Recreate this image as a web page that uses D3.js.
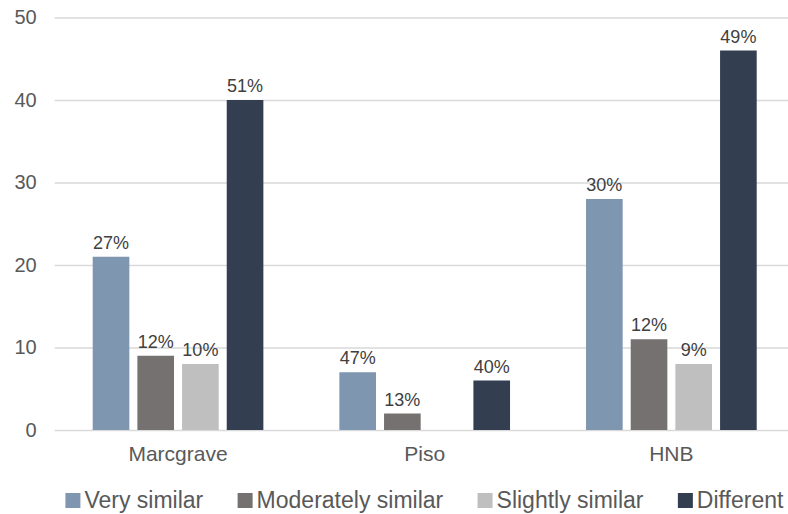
<!DOCTYPE html>
<html>
<head>
<meta charset="utf-8">
<script src="https://cdn.jsdelivr.net/npm/d3@7"></script>
<style>
  html, body { margin: 0; padding: 0; background: #fff; }
  svg { display: block; font-family: "Liberation Sans", Arial, sans-serif; }
</style>
</head>
<body>
<svg id="chart" width="788" height="514"></svg>
<script>
// Sources compared
const categories = ["Marcgrave", "Piso", "HNB"];
// Similarity classes (series)
const seriesNames = ["Very similar", "Moderately similar", "Slightly similar", "Different"];
const seriesColors = ["#7f96b0", "#767171", "#bfbfbf", "#333f50"];
// Counts per source, one array per series
const verySimilar = [21, 7, 28];
const moderatelySimilar = [9, 2, 11];
const slightlySimilar = [8, 0, 8];
const different = [40, 6, 46];
// Percentage labels per source, one array per series ("" = no label)
const verySimilarPct = ["27%", "47%", "30%"];
const moderatelySimilarPct = ["12%", "13%", "12%"];
const slightlySimilarPct = ["10%", "", "9%"];
const differentPct = ["51%", "40%", "49%"];
// Value axis ticks
const yTicks = [0, 10, 20, 30, 40, 50];

const seriesValues = [verySimilar, moderatelySimilar, slightlySimilar, different];
const seriesLabels = [verySimilarPct, moderatelySimilarPct, slightlySimilarPct, differentPct];

const svg = d3.select("#chart");
const plotLeft = 54.7, plotRight = 794.7, plotTop = 17.5, plotBottom = 430;

const x0 = d3.scaleBand().domain(categories).range([plotLeft, plotRight]).padding(0);
const groupPad = 38;
const x1 = d3.scaleBand().domain(seriesNames)
  .range([groupPad, x0.bandwidth() - groupPad]).paddingInner(0.18).paddingOuter(0);
const y = d3.scaleLinear().domain([0, 50]).range([plotBottom, plotTop]);
const color = d3.scaleOrdinal().domain(seriesNames).range(seriesColors);

// Horizontal gridlines with value labels
const yAxis = d3.axisLeft(y).tickValues(yTicks).tickSize(-(plotRight - plotLeft)).tickPadding(18);
const gAxis = svg.append("g").attr("transform", `translate(${plotLeft},0)`).call(yAxis);
gAxis.select(".domain").remove();
gAxis.selectAll(".tick line").attr("stroke", "#d9d9d9").attr("stroke-width", 1.3);
gAxis.selectAll(".tick text").attr("fill", "#595959").attr("font-size", 20)
  .attr("font-family", "'Liberation Sans', Arial, sans-serif");

// Category axis labels
const xAxis = d3.axisBottom(x0).tickSize(0).tickPadding(16);
const gx = svg.append("g").attr("transform", `translate(0,${plotBottom})`).call(xAxis);
gx.select(".domain").remove();
gx.selectAll(".tick text").attr("fill", "#595959").attr("font-size", 21)
  .attr("font-family", "'Liberation Sans', Arial, sans-serif");

// Bars
const rows = [];
categories.forEach((c, ci) => {
  seriesNames.forEach((s, si) => {
    rows.push({ cat: c, series: s, value: seriesValues[si][ci], label: seriesLabels[si][ci] });
  });
});

const groups = svg.append("g").selectAll("g").data(categories).join("g")
  .attr("transform", d => `translate(${x0(d)},0)`);

groups.selectAll("rect")
  .data(c => rows.filter(r => r.cat === c && r.value > 0))
  .join("rect")
  .attr("x", d => x1(d.series))
  .attr("width", x1.bandwidth())
  .attr("y", d => y(d.value))
  .attr("height", d => y(0) - y(d.value))
  .attr("fill", d => color(d.series));

// Percentage labels
groups.selectAll("text.lbl")
  .data(c => rows.filter(r => r.cat === c && r.label))
  .join("text")
  .attr("class", "lbl")
  .attr("x", d => x1(d.series) + x1.bandwidth() / 2)
  .attr("y", d => y(d.value) - 8)
  .attr("text-anchor", "middle")
  .attr("font-size", 18)
  .attr("fill", "#404040")
  .text(d => d.label);

// Legend, centred under the plot
const legend = svg.append("g");
const items = legend.selectAll("g").data(seriesNames).join("g");
items.append("rect").attr("width", 15).attr("height", 15).attr("y", -15)
  .attr("fill", d => color(d));
items.append("text").attr("x", 19).attr("y", 0).attr("font-size", 23)
  .attr("fill", "#595959").text(d => d);
let cursor = 0;
const gap = 34;
items.each(function () {
  const w = this.getBBox().width;
  d3.select(this).attr("transform", `translate(${cursor},0)`);
  cursor += w + gap;
});
const total = cursor - gap;
legend.attr("transform", `translate(${(plotLeft + plotRight) / 2 - total / 2},508)`);
</script>
</body>
</html>
